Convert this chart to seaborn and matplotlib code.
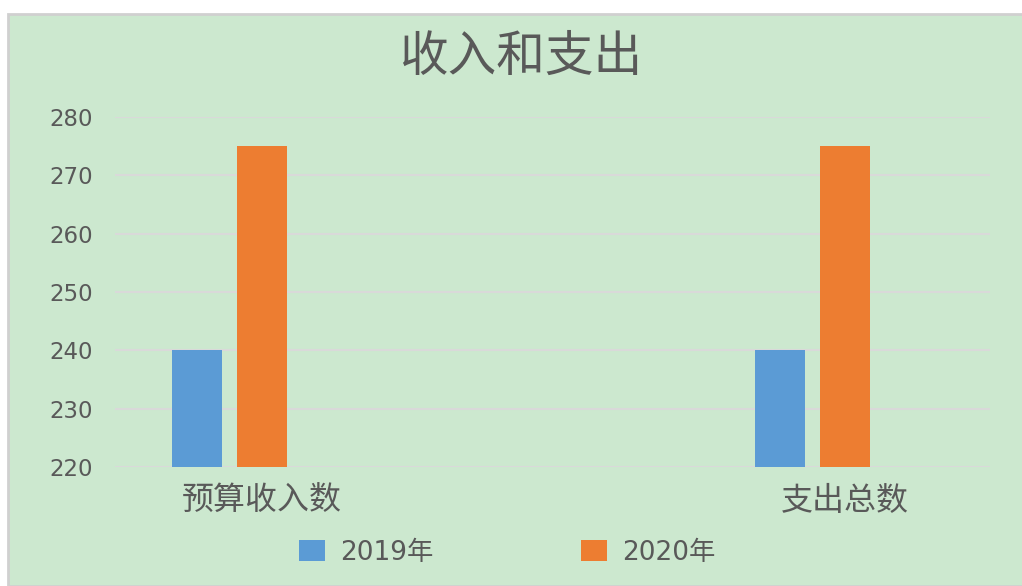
import pandas as pd
import seaborn as sns
import matplotlib.pyplot as plt
from matplotlib.patches import Rectangle, Patch

# 数据
categories = ['预算收入数', '支出总数']
series = ['2019年', '2020年', '系列3']   # 第三个系列为空 (Excel 图里占位)
values_2019 = [240, 240]
values_2020 = [275, 275]
values_s3 = [0, 0]
colors = {'2019年': '#5B9BD5', '2020年': '#ED7D31', '系列3': '#CCE8CF'}

df = pd.DataFrame({
    '类别': categories * 3,
    '系列': [series[0]] * 2 + [series[1]] * 2 + [series[2]] * 2,
    '值': values_2019 + values_2020 + values_s3,
})

sns.set_style('white')
plt.rcParams['font.family'] = ['Noto Sans CJK SC', 'DejaVu Sans']
latin = ['DejaVu Sans', 'Noto Sans CJK SC']

bg = '#CCE8CF'
txt = '#595959'

fig = plt.figure(figsize=(10.22, 5.86), dpi=100, facecolor='white')
# 绿色背景框 (顶部与左侧留白)
fig.patches.append(Rectangle((8 / 1022, 0), 1.1, 1 - 14 / 586, transform=fig.transFigure,
                             facecolor=bg, edgecolor='#D0D0D0', linewidth=2, zorder=-10))

ax = fig.add_axes([115 / 1022, 1 - 467 / 586, 875 / 1022, 350 / 586])
ax.set_facecolor('none')

sns.barplot(data=df, x='类别', y='值', hue='系列', hue_order=series, palette=colors,
            width=0.3345, gap=0.23, saturation=1, legend=False, ax=ax, zorder=3,
            edgecolor='none', linewidth=0)

ax.set_ylim(220, 280)
ax.set_yticks(range(220, 281, 10))
ax.set_xlim(-0.252, 1.249)
ax.grid(axis='y', color='#D9D9D9', linewidth=1.5, zorder=0)
ax.set_axisbelow(True)
for s in ax.spines.values():
    s.set_visible(False)
ax.tick_params(axis='y', length=0, pad=16, labelsize=16.5, labelcolor=txt)
for t in ax.get_yticklabels():
    t.set_family(latin)
ax.tick_params(axis='x', length=0, pad=13, labelsize=23, labelcolor=txt)
for t in ax.get_xticklabels():
    t.set_fontweight('light')
ax.set_xlabel('')
ax.set_ylabel('')

fig.suptitle('收入和支出', x=521 / 1022, y=1 - 57 / 586, va='center',
             fontsize=35, color=txt, fontweight='light')

handles = [Patch(facecolor=colors[s], edgecolor='none') for s in series[:2]]
fig.legend(handles, series[:2], loc='center', bbox_to_anchor=(507 / 1022, 1 - 553 / 586),
           ncol=2, frameon=False, prop={'family': latin, 'size': 19}, labelcolor=txt,
           handlelength=1.0, handleheight=0.85, handletextpad=0.55, columnspacing=5.6)

plt.savefig('out.png', dpi=100, facecolor='white')
